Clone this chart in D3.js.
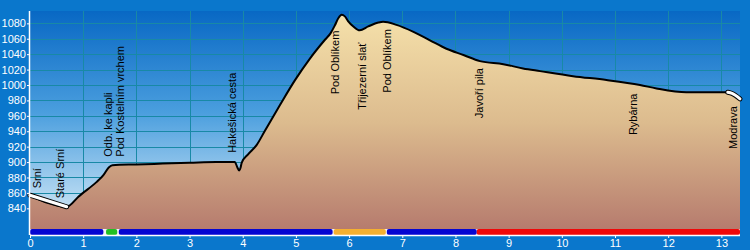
<!DOCTYPE html>
<html>
<head>
<meta charset="utf-8">
<script src="https://cdn.jsdelivr.net/npm/d3@7"></script>
<style>
  body { margin: 0; background: #0a77cc; }
  svg { display: block; font-family: "Liberation Sans", Arial, sans-serif; }
</style>
</head>
<body>
<svg id="chart" width="750" height="250"></svg>
<script>
// elevation profile, km along the route / metres
const profileKm = [0, 0.69, 0.75, 0.91, 1.25, 1.38, 1.48, 1.55, 2.0, 2.5, 3.0, 3.5, 3.85, 3.9, 3.93, 3.96, 3.98,
  4.1, 4.26, 4.42, 4.7, 4.98, 5.26, 5.55, 5.65, 5.73, 5.8, 5.86, 5.92, 5.98, 6.08, 6.2, 6.36, 6.55, 6.64, 6.89, 7.21,
  7.52, 7.83, 8.15, 8.46, 8.9, 9.27, 9.59, 10.21, 10.84, 11.47, 11.78, 12.34, 13.12, 13.2, 13.35];
const profileElev = [857, 842, 844, 855, 874, 883, 893, 896, 897, 898, 899, 900, 900, 893, 889, 893, 899,
  910, 922, 941, 974, 1006, 1034, 1059, 1067, 1077, 1087, 1091, 1089, 1083, 1076, 1071, 1076, 1081, 1082, 1078, 1069,
  1058, 1047, 1039, 1031, 1027, 1021.5, 1018, 1011.5, 1006.5, 1000, 995.5, 990.5, 990.5, 989, 982];

// sections drawn with a white line
const highlightFrom = [0, 13.12];
const highlightTo = [0.69, 13.35];

// waypoints
const waypointNames = ["Srní", "Staré Srní", "Odb. ke kapli", "Pod Kostelním vrchem", "Hakešická cesta",
  "Pod Oblíkem", "Třijezerní slať", "Pod Oblíkem", "Javoří pila", "Rybárna", "Modrava"];
const waypointKm = [0.14, 0.56, 1.47, 1.69, 3.8, 5.74, 6.24, 6.72, 8.44, 11.33, 13.21];
const waypointLabelElev = [866, 853, 907, 907, 912, 988, 968, 990, 957, 935, 917];

// surface strip along the bottom
const surfaceFrom = [0, 1.43, 1.67, 5.71, 6.71, 8.4];
const surfaceTo = [1.38, 1.64, 5.69, 6.69, 8.4, 13.35];
const surfaceColors = ["#0505d2", "#22c022", "#0505d2", "#f5b030", "#0505d2", "#f00808"];

const xTicks = d3.range(0, 14);
const yTicks = d3.range(840, 1081, 20);

const svg = d3.select("#chart");
const plotLeft = 30, plotRight = 740, plotTop = 11, plotBottom = 235;

const x = d3.scaleLinear().domain([0, 13.35]).range([plotLeft, plotRight]);
const y = d3.scaleLinear().domain([805.4, 1096]).range([plotBottom, plotTop]);

const defs = svg.append("defs");
const sky = defs.append("linearGradient").attr("id", "sky")
  .attr("gradientUnits", "userSpaceOnUse").attr("x1", 0).attr("x2", 0).attr("y1", plotTop).attr("y2", plotBottom);
sky.append("stop").attr("offset", 0).attr("stop-color", "#0868c4");
sky.append("stop").attr("offset", 0.45).attr("stop-color", "#4a9ede");
sky.append("stop").attr("offset", 1).attr("stop-color", "#e4f2fa");

const ground = defs.append("linearGradient").attr("id", "ground")
  .attr("gradientUnits", "userSpaceOnUse").attr("x1", 0).attr("x2", 0).attr("y1", plotTop).attr("y2", plotBottom);
ground.append("stop").attr("offset", 0).attr("stop-color", "#f6e2ab");
ground.append("stop").attr("offset", 0.5).attr("stop-color", "#dcbb8e");
ground.append("stop").attr("offset", 1).attr("stop-color", "#b4786c");

// plot background
svg.append("rect").attr("x", plotLeft).attr("y", plotTop)
  .attr("width", plotRight - plotLeft).attr("height", plotBottom - plotTop).attr("fill", "url(#sky)");

// grid
const grid = svg.append("g").attr("stroke", "#1889a6").attr("stroke-width", 1);
grid.selectAll(".gx").data(xTicks.slice(1)).enter().append("line")
  .attr("x1", d => Math.round(x(d)) + 0.5).attr("x2", d => Math.round(x(d)) + 0.5)
  .attr("y1", plotTop).attr("y2", plotBottom);
grid.selectAll(".gy").data(yTicks).enter().append("line")
  .attr("x1", plotLeft).attr("x2", plotRight)
  .attr("y1", d => Math.round(y(d)) + 0.5).attr("y2", d => Math.round(y(d)) + 0.5);

const pts = profileKm.map((k, i) => [k, profileElev[i]]);

const area = d3.area().x(d => x(d[0])).y0(plotBottom).y1(d => y(d[1])).curve(d3.curveMonotoneX);
const line = d3.line().x(d => x(d[0])).y(d => y(d[1])).curve(d3.curveMonotoneX);

svg.append("path").datum(pts).attr("d", area).attr("fill", "url(#ground)");
svg.append("path").datum(pts).attr("d", line)
  .attr("fill", "none").attr("stroke", "#000").attr("stroke-width", 2);

// white sections with a black edge
highlightFrom.forEach((f, i) => {
  const seg = pts.filter(p => p[0] >= f && p[0] <= highlightTo[i]);
  svg.append("path").datum(seg).attr("d", line).attr("fill", "none")
    .attr("stroke", "#000").attr("stroke-width", 5).attr("stroke-linecap", "round");
  svg.append("path").datum(seg).attr("d", line).attr("fill", "none")
    .attr("stroke", "#fff").attr("stroke-width", 3).attr("stroke-linecap", "round");
});

// waypoint labels
svg.selectAll(".wp").data(waypointNames).enter().append("text")
  .attr("transform", (d, i) => `translate(${x(waypointKm[i])}, ${y(waypointLabelElev[i])}) rotate(-90)`)
  .attr("dominant-baseline", "central")
  .attr("font-size", 11)
  .attr("fill", "#000")
  .text(d => d);

// surface strip, white behind so the gaps show
svg.append("rect").attr("x", plotLeft).attr("y", 229).attr("width", plotRight - plotLeft).attr("height", 6)
  .attr("fill", "#f4f0f4");
svg.selectAll(".surf").data(surfaceColors).enter().append("rect")
  .attr("x", (d, i) => x(surfaceFrom[i]))
  .attr("width", (d, i) => x(surfaceTo[i]) - x(surfaceFrom[i]))
  .attr("y", 229).attr("height", 6).attr("rx", 2)
  .attr("fill", d => d);

// axes
const xAxis = svg.append("g").attr("transform", `translate(0, ${plotBottom})`)
  .call(d3.axisBottom(x).tickValues(xTicks).tickSize(3).tickPadding(1).tickFormat(d3.format("d")));
const yAxis = svg.append("g").attr("transform", `translate(${plotLeft}, 0)`)
  .call(d3.axisLeft(y).tickValues(yTicks).tickSize(3).tickPadding(1).tickFormat(d3.format("d")));

[xAxis, yAxis].forEach(a => {
  a.select(".domain").attr("stroke", "#fff").attr("stroke-width", 1.5);
  a.selectAll(".tick line").attr("stroke", "#fff");
  a.selectAll(".tick text").attr("fill", "#fff").attr("font-size", 11)
    .attr("font-family", "Liberation Sans, Arial, sans-serif");
});
xAxis.select(".domain").attr("d", `M${plotLeft},0.5H${plotRight}`);
yAxis.select(".domain").attr("d", `M-0.5,${plotTop}V${plotBottom}`);
</script>
</body>
</html>
